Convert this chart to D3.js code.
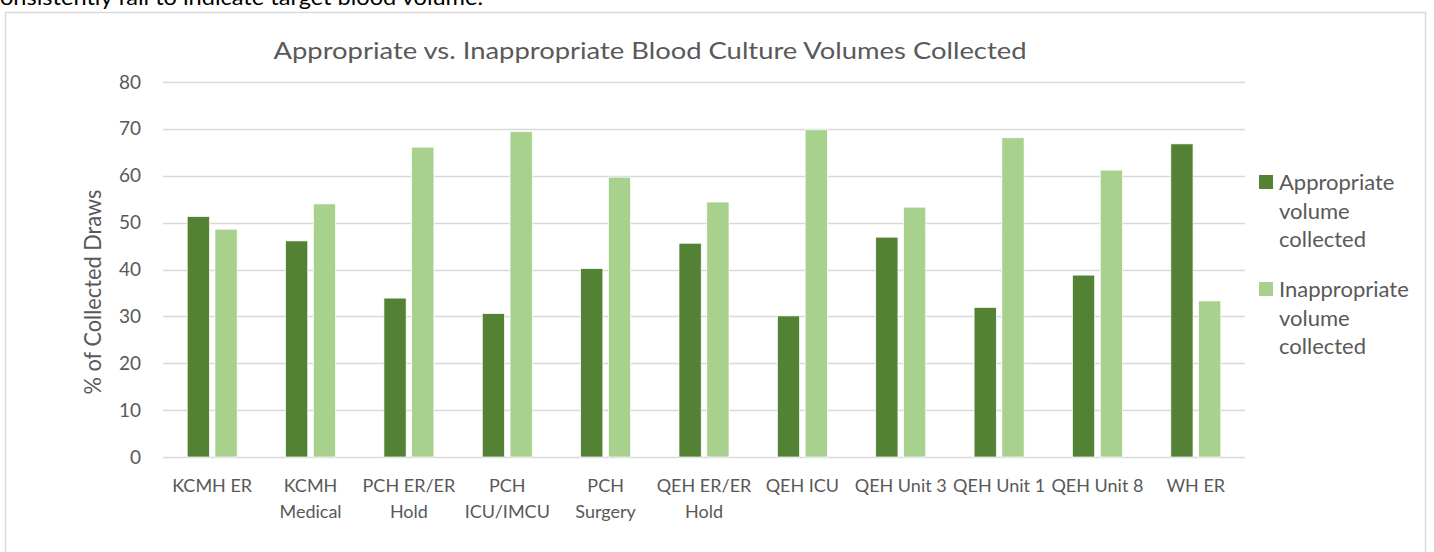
<!DOCTYPE html>
<html><head><meta charset="utf-8">
<script src="https://cdn.jsdelivr.net/npm/d3@7"></script>
<style>
html,body{margin:0;padding:0;background:#fff;overflow:hidden;}
svg{display:block;font-family:Lato,"Open Sans",sans-serif;}
</style></head>
<body>
<svg id="c" width="1434" height="552"></svg>
<script>
const categories = [["KCMH ER"],["KCMH","Medical"],["PCH ER/ER","Hold"],["PCH","ICU/IMCU"],["PCH","Surgery"],["QEH ER/ER","Hold"],["QEH ICU"],["QEH Unit 3"],["QEH Unit 1"],["QEH Unit 8"],["WH ER"]];
const seriesNames = ["Appropriate volume collected","Inappropriate volume collected"];
const legendLines = [["Appropriate","volume","collected"],["Inappropriate","volume","collected"]];
const appropriate = [51.3,46.1,33.9,30.6,40.2,45.6,30.1,46.9,31.9,38.8,66.8];
const inappropriate = [48.6,54.0,66.1,69.4,59.7,54.4,69.8,53.3,68.1,61.2,33.3];
const yTicks = [0,10,20,30,40,50,60,70,80];
const colors = ["#548235","#A9D18E"];
const title = "Appropriate vs. Inappropriate Blood Culture Volumes Collected";
const yTitle = "% of Collected Draws";
const topText = "onsistently fail to indicate target blood volume.";

const svg = d3.select("#c");
const textCol = "#595959";

// leftover paragraph text above the chart
svg.append("text").attr("x",0).attr("y",5).attr("font-size",22).attr("fill","#000")
  .attr("textLength",483).attr("lengthAdjust","spacingAndGlyphs").text(topText);

// chart frame
svg.append("rect").attr("x",5.5).attr("y",12.5).attr("width",1420).attr("height",560)
  .attr("fill","#fff").attr("stroke","#D9D9D9").attr("stroke-width",1.5);

const pLeft=163, pRight=1245, pTop=82, pBottom=457;
const y = d3.scaleLinear().domain([0,80]).range([pBottom,pTop]);
const x0 = d3.scaleBand().domain(d3.range(categories.length)).range([pLeft,pRight]).padding(0);
const bw = x0.bandwidth();
const x1 = d3.scaleBand().domain([0,1]).range([(bw-50)/2,(bw+50)/2]).paddingInner(0.2);

// grid
svg.append("g").selectAll("line").data(yTicks).join("line")
  .attr("x1",pLeft).attr("x2",pRight).attr("y1",d=>Math.round(y(d))+0.5).attr("y2",d=>Math.round(y(d))+0.5)
  .attr("stroke","#D9D9D9").attr("stroke-width",1.5);

// y axis labels
const ya = svg.append("g").attr("transform",`translate(${pLeft},0)`)
  .call(d3.axisLeft(y).tickValues(yTicks).tickSize(0).tickPadding(22));
ya.select(".domain").remove();
ya.selectAll("text").attr("font-size",19).attr("fill",textCol).attr("font-family","Lato,'Open Sans',sans-serif");

// bars
const data = categories.map((c,i)=>[appropriate[i],inappropriate[i]]);
const g = svg.append("g");
data.forEach((vals,i)=>{
  g.append("g").attr("transform",`translate(${x0(i)},0)`).selectAll("rect").data(vals).join("rect")
    .attr("x",(d,j)=>x1(j)).attr("width",x1.bandwidth())
    .attr("y",d=>y(d)).attr("height",d=>y(0)-y(d))
    .attr("fill",(d,j)=>colors[j]).attr("stroke","#fff").attr("stroke-width",0.7);
});

// x axis labels
const xa = svg.append("g");
categories.forEach((lines,i)=>{
  const t = xa.append("text").attr("x",x0(i)+bw/2).attr("y",492).attr("text-anchor","middle")
    .attr("font-size",18).attr("fill",textCol);
  lines.forEach((l,k)=>t.append("tspan").attr("x",x0(i)+bw/2).attr("dy",k===0?0:26).text(l));
});

// title
svg.append("text").attr("x",650).attr("y",59).attr("text-anchor","middle").attr("font-size",23)
  .attr("fill",textCol).attr("textLength",753).attr("lengthAdjust","spacingAndGlyphs").text(title);

// y title
svg.append("text").attr("transform","translate(101,292) rotate(-90)").attr("text-anchor","middle")
  .attr("font-size",23).attr("fill",textCol).attr("textLength",205).attr("lengthAdjust","spacingAndGlyphs").text(yTitle);

// legend
const lg = svg.append("g");
legendLines.forEach((lines,i)=>{
  const yy = 175 + i*107;
  lg.append("rect").attr("x",1259).attr("y",yy).attr("width",14).attr("height",14).attr("fill",colors[i]);
  const t = lg.append("text").attr("x",1279).attr("y",yy+15).attr("font-size",22).attr("fill",textCol);
  lines.forEach((l,k)=>t.append("tspan").attr("x",1279).attr("dy",k===0?0:28.5).text(l));
});
</script>
</body></html>
